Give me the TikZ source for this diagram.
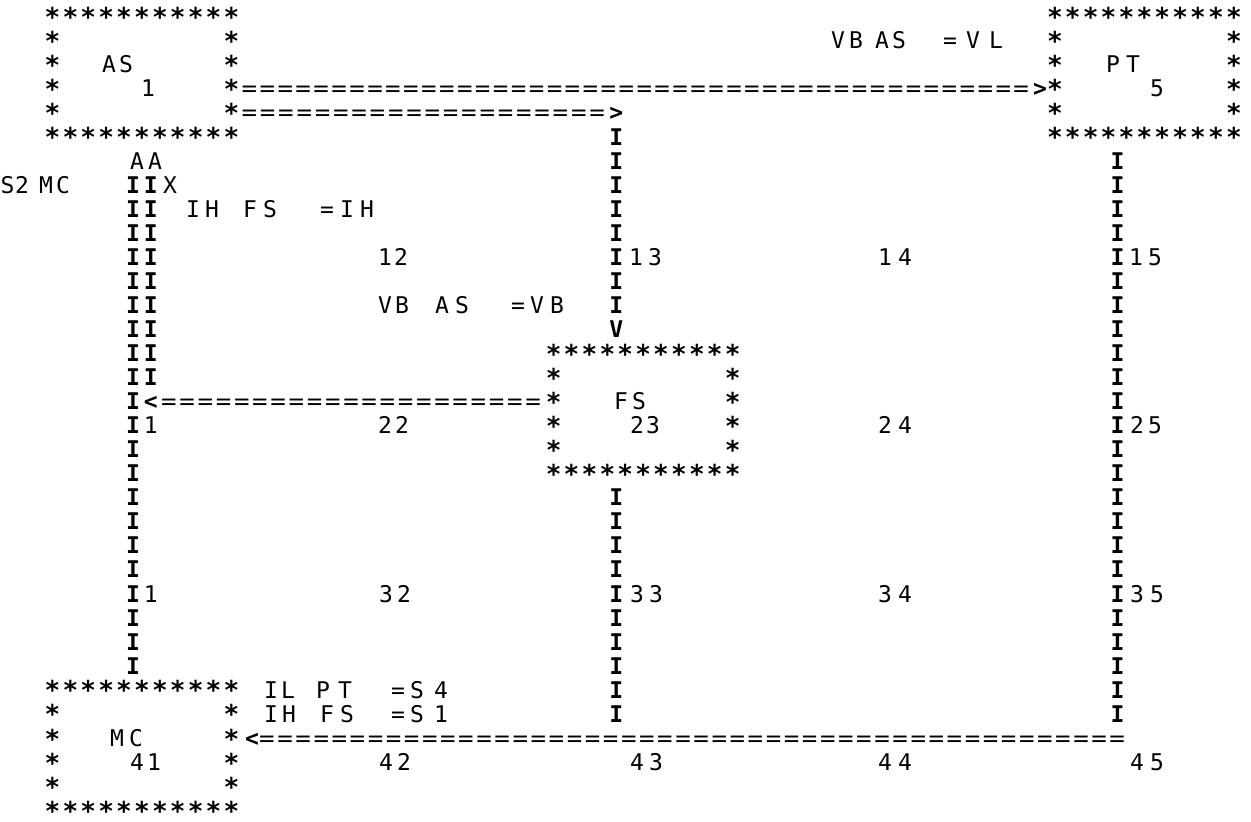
\documentclass[tikz,border=0pt]{standalone}
\usepackage{fontspec}
\usepackage{graphicx}
\newfontfamily\plotfont{DejaVu Sans Mono}
\newfontfamily\plotbold{DejaVu Sans Mono Bold}
\tikzset{
  ch/.style={inner sep=0pt, outer sep=0pt, font=\plotfont\fontsize{11.5}{13}\selectfont,
             text height=8.3pt, text depth=0pt, anchor=center},
  ln/.style={font=\plotbold\fontsize{11.5}{13}\selectfont},
  astk/.style={font=\plotbold\fontsize{13}{14}\selectfont, text height=10.0pt, text depth=-4.8pt},
}
\newcount\chid
\newcommand\putch[3]{\global\advance\chid by 1\relax
  \edef\chname{c\the\chid}%
  \node[ch] (\chname) at ({#1},{16.5+24.05*(#2)}) {#3};}
\newcommand\putln[3]{\global\advance\chid by 1\relax
  \edef\chname{c\the\chid}%
  \node[ch,ln] (\chname) at ({#1},{16.5+24.05*(#2)}) {#3};}
\newcommand\putst[2]{\global\advance\chid by 1\relax
  \edef\chname{c\the\chid}%
  \node[ch,astk] (\chname) at ({#1},{16.5+24.05*(#2)}) {*};}
\newcommand\eqc{{\plotfont\scalebox{1.12}[1]{=}}}
\newcommand\cx[1]{7.7+17.9*(#1)}
% horizontal run: x0, pitch, count, row, char
\newcommand\hln[5]{\foreach \k in {1,...,#3}{\putln{#1+(\k-1)*(#2)}{#4}{#5}}}
\newcommand\hst[4]{\foreach \k in {1,...,#3}{\putst{#1+(\k-1)*(#2)}{#4}}}
% vertical run: x, row0, row1, char
\newcommand\vln[4]{\foreach \r in {#2,...,#3}{\putln{#1}{\r}{#4}}}
% box of stars: left column, top row
\newcommand\starbox[2]{%
  \hst{\cx{#1}}{17.9}{11}{#2}%
  \hst{\cx{#1}}{17.9}{11}{#2+5}%
  \foreach \rr in {1,...,4}{\putst{\cx{#1}}{#2+\rr}\putst{\cx{#1+10}}{#2+\rr}}}
% word: row, list of x/char
\newcommand\word[2]{\foreach \xx/\cc in {#2}{\putch{\xx}{#1}{\cc}}}
\begin{document}
\begin{tikzpicture}[x=0.5pt,y=-0.5pt]
\path[use as bounding box, fill=white] (0,0) rectangle (1251,822);
% boxes
\starbox{2.5}{0}
\starbox{58.5}{0}
\starbox{30.5}{14}
\starbox{2.5}{28}
% box labels
\word{2}{109/A,126/S,1113/P,1133/T}
\word{3}{148/1,1157/5}
\word{16}{621/F,639/S}
\word{17}{637/2,653/3}
\word{30}{117/M,136/C}
\word{31}{137/4,154/1}
% top label
\word{1}{838/V,856/B,882/A,899/S,950/=,973/V,996/L}
% arrows from AS
\hln{249.35}{17.95}{44}{3}{\eqc}
\putln{1040}{3}{>}
\hln{249.35}{18.3}{20}{4}{\eqc}
\putln{\cx{34}}{4}{>}
% middle column
\vln{\cx{34}}{5}{12}{I}
\putln{\cx{34}}{13}{V}
\vln{\cx{34}}{20}{29}{I}
% right column
\vln{\cx{62}}{6}{29}{I}
% left column
\word{6}{137/A,155/A}
\word{7}{7.5/S,22/2,46/M,63/C,170/X}
\vln{\cx{7}}{7}{15}{I}
\vln{\cx{8}}{7}{15}{I}
\word{8}{193/I,212/H,250/F,270/S,327/=,347/I,367/H}
\vln{\cx{7}}{16}{27}{I}
\putln{\cx{8}}{16}{<}
\hln{169}{18.2}{21}{16}{\eqc}
\putch{\cx{8}}{17}{1}
\putch{\cx{8}}{24}{1}
% cell numbers
\word{10}{385/1,401/2,636/1,655/3,885/1,905/4,1136/1,1155/5}
\word{12}{385/V,402/B,442/A,462/S,518/=,537/V,557/B}
\word{17}{385/2,402/2,885/2,905/4,1137/2,1155/5}
\word{24}{386/3,404/2,637/3,656/3,885/3,905/4,1137/3,1157/5}
% bottom labels
\word{28}{271/I,288/L,323/P,345/T,398/=,417/S,441/4}
\word{29}{271/I,289/H,327/F,347/S,398/=,417/S,441/1}
\putln{252}{30}{<}
\hln{267}{18.09}{48}{30}{\eqc}
\word{31}{386/4,404/2,637/4,656/3,885/4,905/4,1137/4,1157/5}
\end{tikzpicture}
\end{document}
